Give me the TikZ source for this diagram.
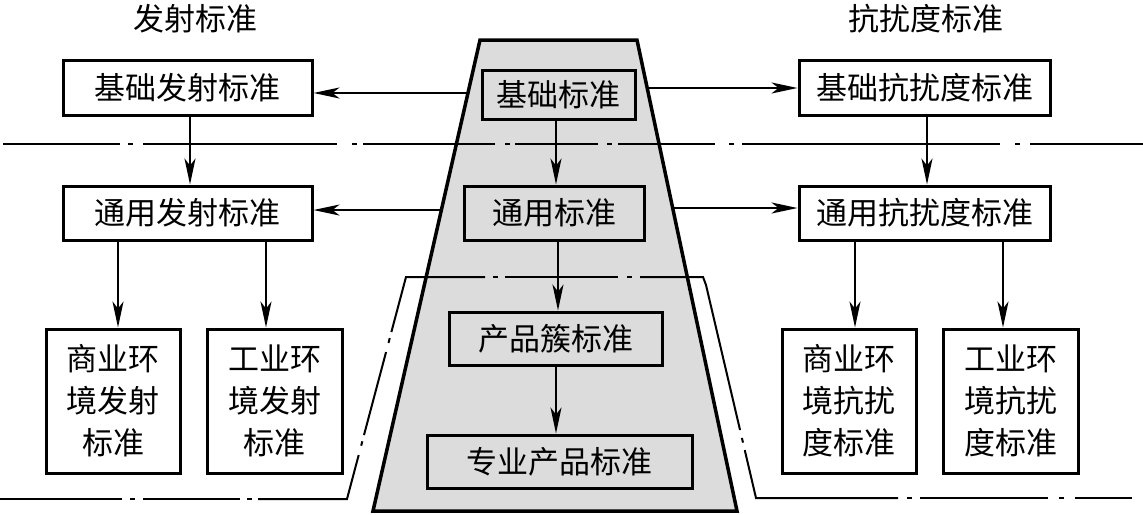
\documentclass[tikz,border=0pt]{standalone}
\usepackage{fontspec}
\newfontfamily\cjk{Noto Sans CJK SC}
\usetikzlibrary{arrows.meta,calc}
\definecolor{trapgray}{RGB}{220,220,220}
\begin{document}
\begin{tikzpicture}[x=1pt,y=-1pt,
  box/.style={draw,line width=3pt,inner sep=0pt,font={\cjk\fontsize{31}{42}\selectfont},align=center},
  lbl/.style={inner sep=0pt,font={\cjk\fontsize{31}{42}\selectfont}},
  arr/.style={line width=2pt,-{Stealth[length=26pt,width=11pt,inset=7pt]}},
  dd/.style={line width=2pt}]
\useasboundingbox (0,0) rectangle (1143,514);
% trapezoid
\coordinate (TL) at (480,40);
\coordinate (TR) at (637,40);
\coordinate (BR) at (737,511);
\coordinate (BL) at (373,511);
\draw[line width=3.5pt,fill=trapgray] (TL) -- (TR) -- (BR) -- (BL) -- cycle;
% upper dash-dot line
\foreach \a/\b in {3/120,128/133,143/337,352/357,363/495,505/510,515/598,607/612,618/715,729/734,742/1000,1015/1020,1030/1143}
  \draw[dd] (\a,144) -- (\b,144);
% lower dash-dot boundary
\coordinate (B) at (347,499);
\coordinate (C) at (406,277);
\coordinate (D) at (703,277);
\coordinate (E) at (706,285);
\coordinate (F) at (756,498);
\draw[dd] (0,499) -- (122,499);
\draw[dd] (130,499) -- (135,499);
\draw[dd] (143,499) -- (240,499);
\draw[dd] (247,499) -- (252,499);
\draw[dd] (258,499) -- (B) -- ($(C)!0.802!(B)$);
\draw[dd] ($(C)!0.74!(B)$) -- ($(C)!0.76!(B)$);
\draw[dd] ($(C)!0.712!(B)$) -- ($(C)!0.338!(B)$);
\draw[dd] ($(C)!0.297!(B)$) -- ($(C)!0.275!(B)$);
\draw[dd] ($(C)!0.248!(B)$) -- (C) -- (485,277);
\draw[dd] (493,277) -- (498,277);
\draw[dd] (505,277) -- (618,277);
\draw[dd] (627,277) -- (632,277);
\draw[dd] (640,277) -- (D) -- (E) -- ($(E)!0.681!(F)$);
\draw[dd] ($(E)!0.718!(F)$) -- ($(E)!0.74!(F)$);
\draw[dd] ($(E)!0.775!(F)$) -- (F) -- (898,498);
\draw[dd] (907,498) -- (912,498);
\draw[dd] (920,498) -- (1048,498);
\draw[dd] (1059,498) -- (1064,498);
\draw[dd] (1075,498) -- (1132,498);
% titles
\node[lbl] (t1) at (195,19) {发射标准};
\node[lbl] (t2) at (926,19) {抗扰度标准};
% boxes
\node[box,minimum width=249pt,minimum height=55pt] (bfs) at (187.5,87.5) {基础发射标准};
\node[box,minimum width=249pt,minimum height=54pt] (tfs) at (187.5,213) {通用发射标准};
\node[box,minimum width=251pt,minimum height=55pt] (bk) at (924.5,87.5) {基础抗扰度标准};
\node[box,minimum width=251pt,minimum height=54pt] (tk) at (924.5,213) {通用抗扰度标准};
\node[box,minimum width=153pt,minimum height=49pt] (b) at (558.5,94.5) {基础标准};
\node[box,minimum width=180pt,minimum height=54pt] (t) at (554,213) {通用标准};
\node[box,minimum width=213pt,minimum height=53pt] (p) at (555.5,338.5) {产品簇标准};
\node[box,minimum width=265pt,minimum height=53pt] (z) at (559.5,461.5) {专业产品标准};
\node[box,minimum width=134pt,minimum height=144pt] (s1) at (113,401) {商业环\\境发射\\标准};
\node[box,minimum width=135pt,minimum height=144pt] (s2) at (274.5,401) {工业环\\境发射\\标准};
\node[box,minimum width=134pt,minimum height=144pt] (s3) at (849,401) {商业环\\境抗扰\\度标准};
\node[box,minimum width=135pt,minimum height=144pt] (s4) at (1010.5,401) {工业环\\境抗扰\\度标准};
% horizontal arrows from the trapezoid
\coordinate (aL1) at ($(TL)!0.1125!(BL)$);
\coordinate (aR1) at ($(TR)!0.1019!(BR)$);
\coordinate (aL2) at ($(TL)!0.361!(BL)$);
\coordinate (aR2) at ($(TR)!0.3567!(BR)$);
\draw[arr] (aL1) -- (aL1 -| bfs.east);
\draw[arr] (aR1) -- (aR1 -| bk.west);
\draw[arr] (aL2) -- (aL2 -| tfs.east);
\draw[arr] (aR2) -- (aR2 -| tk.west);
% vertical arrows
\coordinate (c1) at (190,0);
\coordinate (c2) at (927,0);
\coordinate (c3) at (556,0);
\coordinate (c4) at (558,0);
\coordinate (c5) at (556,0);
\coordinate (c6) at (118,0);
\coordinate (c7) at (266,0);
\coordinate (c8) at (855,0);
\coordinate (c9) at (1003,0);
\draw[arr] (bfs.south -| c1) -- (tfs.north -| c1);
\draw[arr] (bk.south -| c2) -- (tk.north -| c2);
\draw[arr] (b.south -| c3) -- (t.north -| c3);
\draw[arr] (t.south -| c4) -- (p.north -| c4);
\draw[arr] (p.south -| c5) -- (z.north -| c5);
\draw[arr] (tfs.south -| c6) -- (s1.north -| c6);
\draw[arr] (tfs.south -| c7) -- (s2.north -| c7);
\draw[arr] (tk.south -| c8) -- (s3.north -| c8);
\draw[arr] (tk.south -| c9) -- (s4.north -| c9);
\end{tikzpicture}
\end{document}
